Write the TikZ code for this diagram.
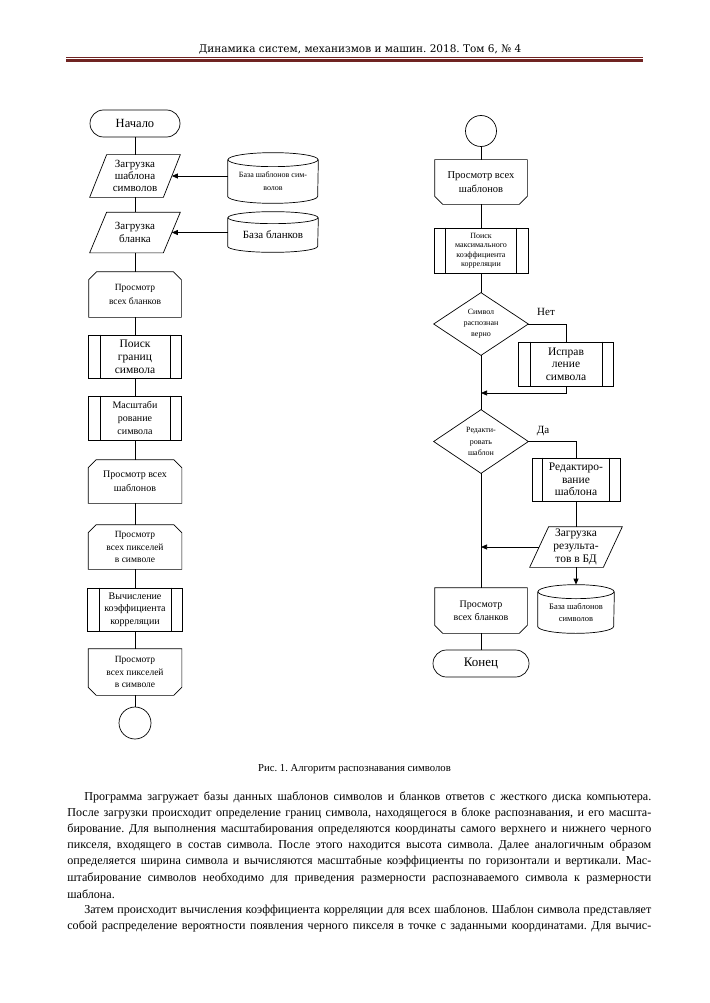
\documentclass[tikz,border=0pt]{standalone}
\usepackage{fontspec}
\setmainfont{Liberation Serif}
\newfontfamily\hdrfont{DejaVu Serif}
\usetikzlibrary{arrows.meta,calc}
\definecolor{hdrred}{RGB}{112,36,34}
\newcommand\fsz[2]{\fontsize{#1}{#2}\selectfont}
\frenchspacing
% parallelogram outline around invisible node
\newcommand\myPA[2]{\draw ([xshift=#2]#1.north west) -- ([xshift=#2]#1.north east) -- ([xshift=-#2]#1.south east) -- ([xshift=-#2]#1.south west) -- cycle;}
% loop start: top corners cut
\newcommand\myLS[2]{\draw ([yshift=-#2]#1.north west) -- ([xshift=#2]#1.north west) -- ([xshift=-#2]#1.north east) -- ([yshift=-#2]#1.north east) -- (#1.south east) -- (#1.south west) -- cycle;}
% loop end: bottom corners cut
\newcommand\myLE[2]{\draw (#1.north west) -- (#1.north east) -- ([yshift=#2]#1.south east) -- ([xshift=-#2]#1.south east) -- ([xshift=#2]#1.south west) -- ([yshift=#2]#1.south west) -- cycle;}
% predefined process inner lines
\newcommand\myPP[2]{\draw ([xshift=#2]#1.north west) -- ([xshift=#2]#1.south west) ([xshift=-#2]#1.north east) -- ([xshift=-#2]#1.south east);}
% diamond
\newcommand\myDI[1]{\draw (#1.north) -- (#1.east) -- (#1.south) -- (#1.west) -- cycle;}
% cylinder: node = body below top cap
\newcommand\myCY[3]{\draw (#1.north) ellipse [x radius=#2, y radius=#3];
  \draw (#1.north west) -- ([yshift=#3]#1.south west) arc[start angle=180,end angle=360,x radius=#2,y radius=#3] -- (#1.north east);}
\begin{document}
\begin{tikzpicture}[x=1pt,y=-1pt,line width=0.7pt,
  box/.style={inner sep=0pt, align=center},
  arr/.style={-{Triangle[length=6pt,width=5pt]}},
  bodyline/.style={anchor=west, inner sep=0pt, font=\fsz{12.1}{14}}]
\useasboundingbox (0,0) rectangle (709,1003);
\fill[white] (0,0) rectangle (709,1003);

% header
\node[font=\hdrfont\fsz{10.5}{12}] (hdr) at (360,49) {Динамика систем, механизмов и машин. 2018. Том 6, №~4};
\fill[hdrred] (66,57.2) rectangle (643,58.2);
\fill[hdrred] (66,59.2) rectangle (643,62.4);

% ---------- left column ----------
\node[box, draw, rounded corners=13.5pt, minimum width=90pt, minimum height=27pt, font=\fsz{12.5}{14}] (start) at (135,123.5) {Начало};
\node[box, minimum width=73pt, minimum height=42pt, font=\fsz{11}{12}] (p1) at (135,176) {Загрузка\\шаблона\\символов};
\myPA{p1}{8.5pt}
\node[box, minimum width=73pt, minimum height=40pt, font=\fsz{11}{12.5}] (p2) at (135,232.5) {Загрузка\\бланка};
\myPA{p2}{8.5pt}
\node[box, minimum width=90pt, minimum height=43pt, font=\fsz{8}{13}] (db1) at (273,181.5) {База шаблонов сим-\\волов};
\myCY{db1}{45pt}{7pt}
\node[box, minimum width=90pt, minimum height=34pt, font=\fsz{11}{13}] (db2) at (273,235) {База бланков};
\myCY{db2}{45pt}{6pt}
\node[box, minimum width=92pt, minimum height=45pt, font=\fsz{9.5}{13.5}] (ls1) at (135,294.5) {Просмотр\\всех бланков};
\myLS{ls1}{8pt}
\node[box, draw, minimum width=93pt, minimum height=43pt, font=\fsz{11.5}{13}] (pr1) at (135,356.5) {Поиск\\границ\\символа};
\myPP{pr1}{12pt}
\node[box, draw, minimum width=93pt, minimum height=44pt, font=\fsz{10}{13}] (pr2) at (135,418) {Масштаби\\рование\\символа};
\myPP{pr2}{12pt}
\node[box, minimum width=93pt, minimum height=43pt, font=\fsz{10}{14}] (ls2) at (135,481.5) {Просмотр всех\\шаблонов};
\myLS{ls2}{8pt}
\node[box, minimum width=93pt, minimum height=44pt, font=\fsz{9.5}{12.5}] (ls3) at (135,547) {Просмотр\\всех пикселей\\в символе};
\myLS{ls3}{8pt}
\node[box, draw, minimum width=95pt, minimum height=43pt, font=\fsz{10}{12.7}] (pr3) at (135,609.5) {Вычисление\\коэффициента\\корреляции};
\myPP{pr3}{12pt}
\node[box, minimum width=93pt, minimum height=46pt, font=\fsz{9.5}{12.5}] (le1) at (135,672) {Просмотр\\всех пикселей\\в символе};
\myLE{le1}{8pt}
\node[circle, draw, minimum size=32pt, inner sep=0pt] (c1) at (135,723) {};

\draw (start.south) -- (p1.north);
\draw (p1.south) -- (p2.north);
\draw (p2.south) -- (ls1.north);
\draw (ls1.south) -- (pr1.north);
\draw (pr1.south) -- (pr2.north);
\draw (pr2.south) -- (ls2.north);
\draw (ls2.south) -- (ls3.north);
\draw (ls3.south) -- (pr3.north);
\draw (pr3.south) -- (le1.north);
\draw (le1.south) -- (c1.north);
\draw[arr] (p1.east -| db1.west) -- (p1.east);
\draw[arr] (p2.east -| db2.west) -- (p2.east);

% ---------- right column ----------
\node[circle, draw, minimum size=31pt, inner sep=0pt] (c2) at (481,131) {};
\node[box, minimum width=92pt, minimum height=44pt, font=\fsz{10.5}{14}] (le2) at (481,182) {Просмотр всех\\шаблонов};
\myLE{le2}{8pt}
\node[box, draw, minimum width=94pt, minimum height=45pt, font=\fsz{8}{9.5}] (pr4) at (481,250.5) {Поиск\\максимального\\коэффициента\\корреляции};
\myPP{pr4}{12pt}
\node[box, minimum width=94pt, minimum height=62pt, font=\fsz{8}{11}] (d1) at (481,324) {Символ\\распознан\\верно};
\myDI{d1}
\node[font=\fsz{11}{12}] (no) at (546,312) {Нет};
\node[box, draw, minimum width=95pt, minimum height=44pt, font=\fsz{11.5}{12.5}] (pr5) at (566,364) {Исправ\\ление\\символа};
\myPP{pr5}{12pt}
\coordinate (j1) at (481,393);
\node[box, minimum width=94pt, minimum height=63pt, font=\fsz{8}{11.5}] (d2) at (481,441.5) {Редакти-\\ровать\\шаблон};
\myDI{d2}
\node[font=\fsz{11}{12}] (yes) at (543,431) {Да};
\node[box, draw, minimum width=88pt, minimum height=43pt, font=\fsz{11.5}{12.5}] (pr6) at (576,479.5) {Редактиро-\\вание\\шаблона};
\myPP{pr6}{11pt}
\node[box, minimum width=73pt, minimum height=40pt, font=\fsz{11.5}{13}] (pa3) at (576,547) {Загрузка\\результа-\\тов в БД};
\myPA{pa3}{9.5pt}
\coordinate (j2) at (481,547);
\node[box, minimum width=76pt, minimum height=41pt, font=\fsz{8.5}{12.5}] (db3) at (576,612.5) {База шаблонов\\символов};
\myCY{db3}{38pt}{7pt}
\node[box, minimum width=92pt, minimum height=45pt, font=\fsz{10}{13}] (le3) at (481,610.5) {Просмотр\\всех бланков};
\myLE{le3}{8pt}
\node[box, draw, rounded corners=13.5pt, minimum width=96pt, minimum height=27pt, font=\fsz{13}{14}] (end) at (481,663.5) {Конец};

\draw (c2.south) -- (le2.north);
\draw (le2.south) -- (pr4.north);
\draw (pr4.south) -- (d1.north);
\draw (d1.south) -- (d2.north);
\draw (d2.south) -- (le3.north);
\draw (le3.south) -- (end.north);
\draw (d1.east) -| (pr5.north);
\draw[arr] (pr5.south) |- (j1);
\draw (d2.east) -| (pr6.north);
\draw (pr6.south) -- (pa3.north);
\draw[arr] (pa3.west) -- (j2);
\draw[arr] (pa3.south) -- ([yshift=7pt]db3.north);

% caption
\node[font=\fsz{10.7}{12}] (cap) at (354.5,769) {Рис. 1. Алгоритм распознавания символов};

% body text
\node[bodyline] (t1) at (84,797) {\makebox[567pt][s]{Программа загружает базы данных шаблонов символов и бланков ответов с жесткого диска компьютера.}};
\node[bodyline] (t2) at (67,813.2) {\makebox[584pt][s]{После загрузки происходит определение границ символа, находящегося в блоке распознавания, и его масшта-}};
\node[bodyline] (t3) at (67,829.4) {\makebox[584pt][s]{бирование. Для выполнения масштабирования определяются координаты самого верхнего и нижнего черного}};
\node[bodyline] (t4) at (67,845.6) {\makebox[584pt][s]{пикселя, входящего в состав символа. После этого находится высота символа. Далее аналогичным образом}};
\node[bodyline] (t5) at (67,861.8) {\makebox[584pt][s]{определяется ширина символа и вычисляются масштабные коэффициенты по горизонтали и вертикали. Мас-}};
\node[bodyline] (t6) at (67,878) {\makebox[584pt][s]{штабирование символов необходимо для приведения размерности распознаваемого символа к размерности}};
\node[bodyline] (t7) at (67,894.2) {шаблона.};
\node[bodyline] (t8) at (84,910.4) {\makebox[567pt][s]{Затем происходит вычисления коэффициента корреляции для всех шаблонов. Шаблон символа представляет}};
\node[bodyline] (t9) at (67,926.6) {\makebox[584pt][s]{собой распределение вероятности появления черного пикселя в точке с заданными координатами. Для вычис-}};
\end{tikzpicture}
\end{document}
